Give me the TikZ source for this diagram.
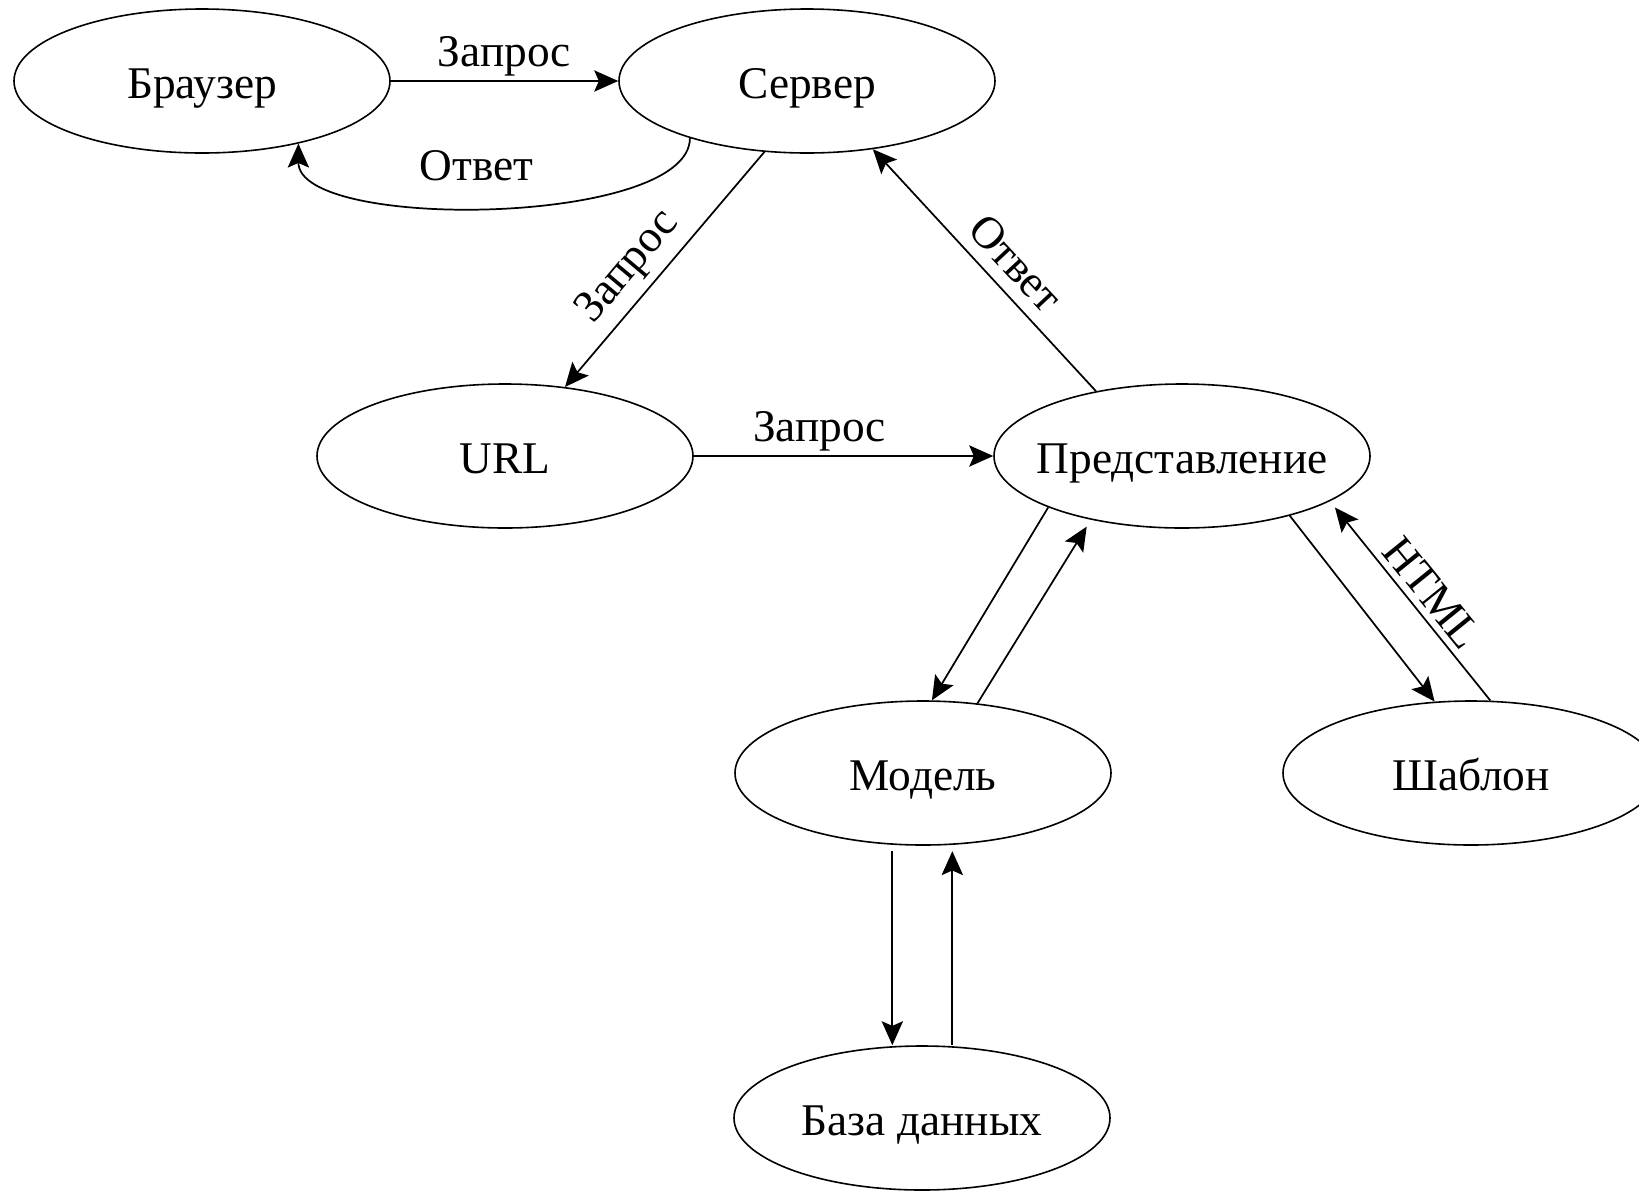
\documentclass[tikz,border=0pt]{standalone}
\usepackage{fontspec}
\setmainfont{Liberation Serif}
\usepackage{tikz}
\usetikzlibrary{shapes.geometric, arrows.meta}

\begin{document}
\begin{tikzpicture}[x=0.75pt,y=0.75pt,yscale=-1,xscale=1,
    oval/.style={draw, ellipse, line width=1.2pt, minimum width=282pt, minimum height=108pt, inner sep=0pt,
        text height=25.5pt, text depth=0pt, font=\fontsize{34}{40}\selectfont,
        execute at begin node={\hbox to 0pt\bgroup\hss}, execute at end node={\hss\egroup}},
    arr/.style={line width=1.3pt, -{Stealth[length=18pt,width=16pt,inset=3.5pt]}},
    lbl/.style={inner sep=3pt, font=\fontsize{34}{40}\selectfont}]
    %set diagram: width 1639, height 1190
    \clip (0,0) rectangle (1639,1190);

    %Shape: Ellipse
    \node [oval] (browser) at (202,81) {Браузер};
    %Shape: Ellipse
    \node [oval] (server) at (807,81) {Сервер};
    %Shape: Ellipse
    \node [oval] (url) at (505,456) {URL};
    %Shape: Ellipse
    \node [oval] (view) at (1182,456) {Представление};
    %Shape: Ellipse
    \node [oval] (model) at (923,773) {Модель};
    %Shape: Ellipse
    \node [oval] (tmpl) at (1471,773) {Шаблон};
    %Shape: Ellipse
    \node [oval] (db) at (922,1118) {База данных};

    %Straight Lines
    \draw [arr] (browser.east) -- node [lbl, above] (q1) {Запрос} (server.west);
    %Curve Lines
    \draw [arr] (server.206) .. controls +(0,88) and +(0,88) .. node [lbl, pos=0.53, above=16pt] (a1) {Ответ} (browser.327);
    %Straight Lines
    \draw [arr] (server.239) -- node [lbl, inner sep=6pt, rotate=50, above, pos=0.57] (q2) {Запрос} (url.49);
    %Straight Lines
    \draw [arr] (url.east) -- node [lbl, above, pos=0.42] (q3) {Запрос} (view.west);
    %Straight Lines
    \draw [arr] (view.143) -- node [lbl, inner sep=9pt, rotate=-47, above, pos=0.45] (a2) {Ответ} (server.314);
    %Straight Lines
    \draw [arr] (view.201) -- (model.83);
    \draw [arr, shorten >=6pt] (model.52) -- (view.215);
    %Straight Lines
    \draw [arr] (view.331) -- (tmpl.117);
    \draw [arr, shorten >=6pt] (tmpl.75) -- node [lbl, inner sep=5pt, rotate=-51, above, pos=0.47] (h1) {HTML} (view.343);
    %Straight Lines
    \draw [arr, shorten <=4pt] ([xshift=-23pt]model.south) -- ([xshift=-23pt]model.south |- db.north);
    \draw [arr, shorten >=4pt] ([xshift=22pt]model.south |- db.north) -- ([xshift=22pt]model.south);
\end{tikzpicture}
\end{document}
